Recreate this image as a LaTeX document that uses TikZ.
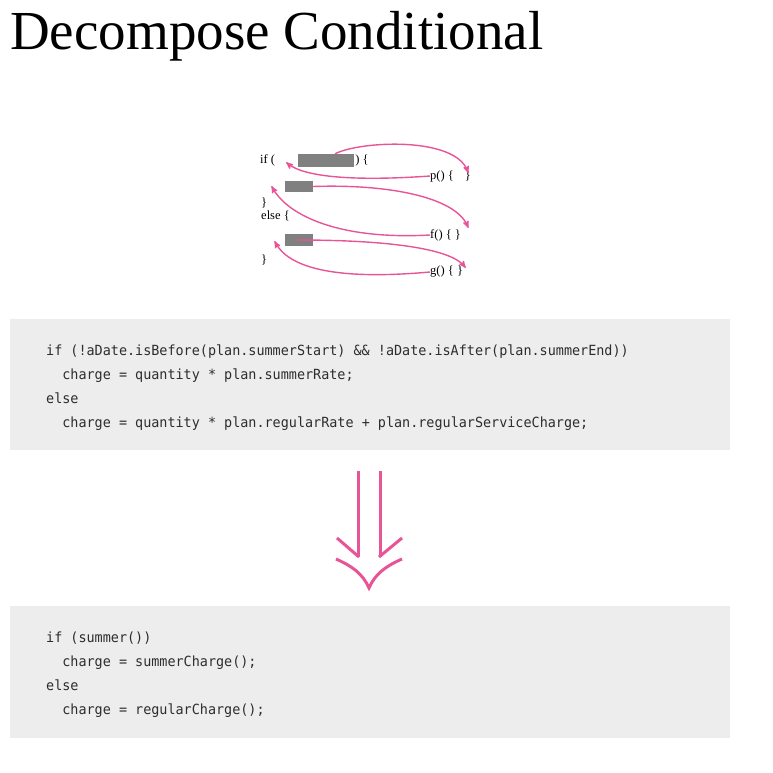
\documentclass[tikz,border=0pt]{standalone}
\usepackage{fontspec}
\setmainfont{Liberation Serif}
\setmonofont[FakeStretch=0.96]{DejaVu Sans Mono}
\usepackage{tikz}
\usetikzlibrary{arrows,positioning}
\usepackage{xcolor}
\definecolor{hotpink}{RGB}{232,84,152}
\definecolor{codebg}{RGB}{236,237,236}
\definecolor{blockgray}{RGB}{128,128,128}
\definecolor{codetext}{RGB}{45,45,45}

\begin{document}
\begin{tikzpicture}[x=1pt,y=-1pt,
  small/.style={inner sep=0pt, anchor=west, font=\fontsize{12.5}{14}\selectfont},
  blk/.style={fill=blockgray, inner sep=0pt},
  flow/.style={hotpink, line width=1.4pt, ->, >=stealth', shorten >=-1pt},
  codeline/.style={inner sep=0pt, anchor=base west, text=codetext, font=\ttfamily\fontsize{14}{16}\selectfont},
  codebox/.style={fill=codebg, draw=none}]
\useasboundingbox (0,0) rectangle (772,773);

\node [anchor=base west, inner sep=0pt, font=\fontsize{55}{60}\selectfont] (title) at (10,50) {Decompose Conditional};

% small sketch of the conditional
\node [small] (if) at (260,160) {if (};
\node [blk, minimum width=56pt, minimum height=13pt] (cond) at (326,160.5) {};
\node [small, right=1pt of cond] (ifbrace) {) \{};
\node [blk, minimum width=28pt, minimum height=11pt] (then) at (299,186.5) {};
\node [small] (close1) at (261,203) {\}};
\node [small] (else) at (261,216) {else \{};
\node [blk, minimum width=28pt, minimum height=12pt] (other) at (299,240) {};
\node [small] (close2) at (261,260) {\}};

\node [small] (p) at (430,176) {p() \{\hspace{11pt}\}};
\node [small] (f) at (430,235) {f() \{ \}};
\node [small] (g) at (430,272) {g() \{ \}};

\coordinate (ptip) at (468,172);
\coordinate (ftip) at (468,227);
\coordinate (gtip) at (465,267);
\coordinate (iftip) at (287,163);
\coordinate (thentip) at (272,187);
\coordinate (othertip) at (275,242);

\draw [flow] ([xshift=9pt]cond.north) .. controls (360,141) and (455,136) .. (ptip);
\draw [flow] (p.west) .. controls (360,181) and (305,178) .. (iftip);
\draw [flow] (then.east) .. controls (385,184) and (455,196) .. (ftip);
\draw [flow] (f.west) .. controls (340,240) and (288,216) .. (thentip);
\draw [flow] ([xshift=-2pt]other.center) .. controls (385,240) and (450,248) .. (gtip);
\draw [flow] (g.west) .. controls (330,281) and (288,266) .. (othertip);

% before
\fill [codebox] (10,319) rectangle (730,450);
\node [codeline] (b1) at (46,355) {if (!aDate.isBefore(plan.summerStart) \&\& !aDate.isAfter(plan.summerEnd))};
\node [codeline] (b2) at (46,379) {\ \ charge = quantity * plan.summerRate;};
\node [codeline] (b3) at (46,403) {else};
\node [codeline] (b4) at (46,427) {\ \ charge = quantity * plan.regularRate + plan.regularServiceCharge;};

% refactoring arrow
\draw [hotpink, line width=3pt] (358,471) -- (358,557) (380,471) -- (380,557);
\draw [hotpink, line width=3pt] (337,538) -- (359,557) (402,538) -- (379,557);
\draw [hotpink, line width=3pt] (336,559) .. controls (352,566) and (363,574) .. (369,588)
  .. controls (375,574) and (386,566) .. (402,559);

% after
\fill [codebox] (10,606) rectangle (730,738);
\node [codeline] (a1) at (46,642) {if (summer())};
\node [codeline] (a2) at (46,666) {\ \ charge = summerCharge();};
\node [codeline] (a3) at (46,690) {else};
\node [codeline] (a4) at (46,714) {\ \ charge = regularCharge();};
\end{tikzpicture}
\end{document}
